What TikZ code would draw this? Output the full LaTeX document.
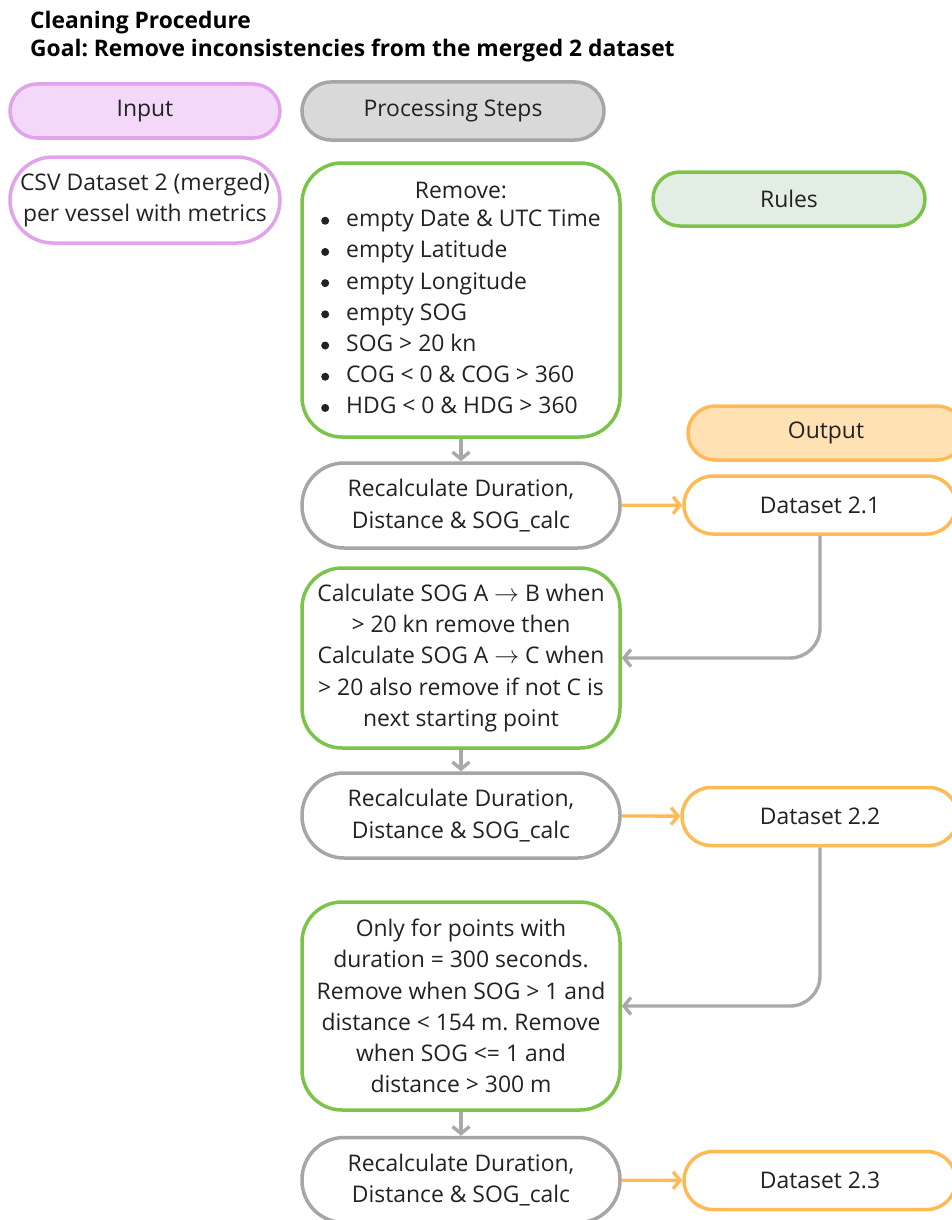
\documentclass[tikz,border=0pt]{standalone}
\usepackage{fontspec}
\setmainfont{Open Sans}
\usepackage{tikz}
\usetikzlibrary{positioning,arrows.meta}
\usepackage{xcolor}
\frenchspacing

\definecolor{inkgray}{HTML}{222222}
\definecolor{pinkline}{HTML}{E2A2EC}
\definecolor{pinkfill}{HTML}{F3D8FA}
\definecolor{stepline}{HTML}{A6A6A6}
\definecolor{stepfill}{HTML}{D9D9D9}
\definecolor{ruleline}{HTML}{7CC349}
\definecolor{rulefill}{HTML}{E2EEE4}
\definecolor{outorange}{HTML}{FDBA55}
\definecolor{outfill}{HTML}{FFE1B4}
\definecolor{flowgray}{HTML}{A9A9A9}

\tikzset{
  box/.style={draw, line width=3.5pt, inner sep=0pt, align=center, text=inkgray,
    font=\fontsize{22.9}{31.2}\selectfont},
  pill/.style={box, rounded corners=27pt, minimum height=54pt},
  inputbox/.style={box, draw=pinkline, fill=white, minimum width=270pt},
  stepbox/.style={box, draw=stepline, fill=white, rounded corners=42pt,
    minimum width=318pt, minimum height=85pt},
  rulebox/.style={box, draw=ruleline, fill=white, rounded corners=40pt,
    minimum width=318pt},
  databox/.style={pill, draw=outorange, fill=white, minimum width=272pt,
    minimum height=58pt, rounded corners=29pt},
  grayflow/.style={draw=flowgray, line width=3.4pt,
    -{Straight Barb[length=7pt,width=17pt]}},
  orangeflow/.style={draw=outorange, line width=3.4pt,
    -{Straight Barb[length=7pt,width=17pt]}},
  heading/.style={anchor=base west, inner sep=0pt, text=black,
    font=\bfseries\fontsize{22.8}{26}\selectfont}
}

\begin{document}
\begin{tikzpicture}[x=1pt,y=-1pt]
  \clip (0,0) rectangle (952,1220);

  % Title
  \node[heading] (title) at (30,29) {Cleaning Procedure};
  \node[heading] (goal) at (30,57) {Goal: Remove inconsistencies from the merged 2 dataset};

  % Column headers
  \node[pill, draw=pinkline, fill=pinkfill, minimum width=270pt] (input) at (145,111) {Input};
  \node[pill, draw=stepline, fill=stepfill, minimum width=302pt, minimum height=58pt,
    rounded corners=29pt] (steps) at (453,111) {Processing Steps};
  \node[pill, draw=ruleline, fill=rulefill, minimum width=272pt] (rules) at (789,199) {Rules};
  \node[pill, draw=outorange, fill=outfill, minimum width=276pt] (output) at (826,433) {Output};

  % Input
  \node[inputbox, rounded corners=43pt, minimum height=86pt] (csv) at (145,200)
    {CSV Dataset 2 (merged)\\per vessel with metrics};

  % Processing steps
  \node[rulebox, minimum height=274pt] (remove) at (461,300) {%
    \begin{tabular}{@{}l@{\hspace{17pt}}l@{}}
      \multicolumn{2}{c}{Remove:}\\[-3pt]
      \tikz[baseline=-6pt]\fill[inkgray] (0,0) circle (4pt); & empty Date \& UTC Time\\
      \tikz[baseline=-6pt]\fill[inkgray] (0,0) circle (4pt); & empty Latitude\\
      \tikz[baseline=-6pt]\fill[inkgray] (0,0) circle (4pt); & empty Longitude\\
      \tikz[baseline=-6pt]\fill[inkgray] (0,0) circle (4pt); & empty SOG\\
      \tikz[baseline=-6pt]\fill[inkgray] (0,0) circle (4pt); & SOG > 20 kn\\
      \tikz[baseline=-6pt]\fill[inkgray] (0,0) circle (4pt); & COG < 0 \& COG > 360\\
      \tikz[baseline=-6pt]\fill[inkgray] (0,0) circle (4pt); & HDG < 0 \& HDG > 360
    \end{tabular}};
  \node[stepbox] (calc1) at (461,505.5) {Recalculate Duration,\\Distance \& SOG\_calc};
  \node[rulebox, minimum height=180pt] (speed) at (461,658)
    {Calculate SOG A $\rightarrow$ B when\\> 20 kn remove then\\Calculate SOG A $\rightarrow$ C when\\> 20 also remove if not C is\\next starting point};
  \node[stepbox] (calc2) at (461,815.5) {Recalculate Duration,\\Distance \& SOG\_calc};
  \node[rulebox, minimum height=208pt] (still) at (461,1006)
    {Only for points with\\duration = 300 seconds.\\Remove when SOG > 1 and\\distance < 154 m. Remove\\when SOG <= 1 and\\distance > 300 m};
  \node[stepbox] (calc3) at (461,1180) {Recalculate Duration,\\Distance \& SOG\_calc};

  % Output
  \node[databox] (d21) at (820,505) {Dataset 2.1};
  \node[databox, minimum width=276pt] (d22) at (820,816.5) {Dataset 2.2};
  \node[databox] (d23) at (820,1180.5) {Dataset 2.3};

  % Flow
  \draw[grayflow] (remove) -- (calc1);
  \draw[grayflow] (speed) -- (calc2);
  \draw[grayflow] (still) -- (calc3);
  \draw[orangeflow] (calc1) -- (d21);
  \draw[orangeflow] (calc2) -- (d22);
  \draw[orangeflow] (calc3) -- (d23);
  \draw[grayflow, rounded corners=30pt] (d21.south) |- (speed.east);
  \draw[grayflow, rounded corners=30pt] (d22.south) |- (still.east);
\end{tikzpicture}
\end{document}
